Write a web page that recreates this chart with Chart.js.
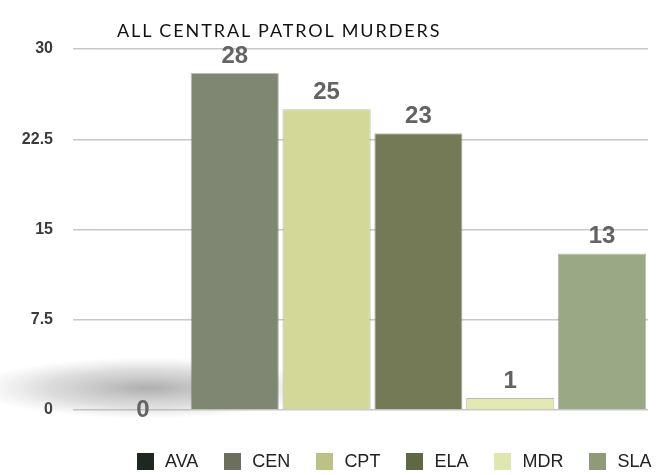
<!DOCTYPE html>
<html>
<head>
<meta charset="utf-8">
<script src="https://cdn.jsdelivr.net/npm/chart.js@4"></script>
<style>
  body { margin: 0; background: #fff; }
  #wrap { position: relative; width: 670px; height: 475px; }
  #title {
    position: absolute; left: 117px; top: 19px;
    font-family: Lato, "Open Sans", sans-serif; font-size: 18px; color: #111;
    letter-spacing: 1.9px;
  }
  #legend {
    position: absolute; left: 137px; top: 450px; display: flex;
    font-family: "Liberation Sans", Arial, sans-serif; font-size: 18px; color: #222;
  }
  #legend .item { display: flex; align-items: center; margin-right: 26px; line-height: 22px; }
  #legend .box { width: 17px; height: 17px; margin-right: 11px; }
</style>
</head>
<body>
<div id="wrap">
  <div id="title">ALL CENTRAL PATROL MURDERS</div>
  <canvas id="bar-chart"></canvas>
  <div id="legend"></div>
</div>
<script>
const categories = ["AVA", "CEN", "CPT", "ELA", "MDR", "SLA"];
const murders = [0, 28, 25, 23, 1, 13];
const yTicks = [0, 7.5, 15, 22.5, 30];
const barColors = ["#1f2820", "#7f8672", "#d3d898", "#747a55", "#e4e9b4", "#9ba886"];
const legendColors = ["#1f2820", "#6c6f60", "#bcc188", "#5f6844", "#dfe6b0", "#8f9a7a"];

// value labels above each bar
const valueLabels = {
  id: "valueLabels",
  afterDatasetsDraw(chart) {
    const ctx = chart.ctx;
    const meta = chart.getDatasetMeta(0);
    ctx.save();
    ctx.font = "bold 24px 'Liberation Sans', Arial, sans-serif";
    ctx.fillStyle = "#636363";
    ctx.textAlign = "center";
    ctx.textBaseline = "bottom";
    meta.data.forEach((bar, i) => {
      const v = murders[i];
      const y = v === 0 ? bar.y + 12 : bar.y - 5;
      ctx.fillText(String(v), bar.x, y);
    });
    ctx.restore();
  }
};

// soft floor shadow behind the bars (decoration only)
const floorShadow = {
  id: "floorShadow",
  beforeDatasetsDraw(chart) {
    const { ctx, chartArea } = chart;
    const y0 = chart.scales.y.getPixelForValue(0);
    ctx.save();
    ctx.translate(chartArea.left + 50, y0 - 22);
    ctx.scale(1, 0.18);
    const g = ctx.createRadialGradient(0, 0, 0, 0, 0, 170);
    g.addColorStop(0, "rgba(120,120,120,0.6)");
    g.addColorStop(0.6, "rgba(150,150,150,0.32)");
    g.addColorStop(1, "rgba(170,170,170,0)");
    ctx.fillStyle = g;
    ctx.beginPath();
    ctx.arc(0, 0, 170, 0, Math.PI * 2);
    ctx.fill();
    ctx.restore();
  }
};

const legendEl = document.getElementById("legend");
categories.forEach((c, i) => {
  const item = document.createElement("div");
  item.className = "item";
  item.innerHTML = '<span class="box" style="background:' + legendColors[i] + '"></span>' + c;
  legendEl.appendChild(item);
});

new Chart(document.getElementById("bar-chart"), {
  type: "bar",
  data: {
    labels: categories,
    datasets: [{
      label: "Murders",
      data: murders,
      backgroundColor: barColors,
      borderColor: "rgba(60,60,50,0.35)",
      borderWidth: 1,
      barPercentage: 0.96,
      categoryPercentage: 1
    }]
  },
  options: {
    responsive: true,
    maintainAspectRatio: false,
    animation: false,
    layout: { padding: { top: 49, right: 22, left: 0, bottom: 65 } },
    plugins: {
      tooltip: { enabled: false },
      legend: { display: false }
    },
    scales: {
      x: { display: false },
      y: {
        min: 0,
        max: 30,
        afterFit(scale) { scale.width = 97; },
        afterBuildTicks(scale) { scale.ticks = yTicks.map(v => ({ value: v })); },
        border: { display: false },
        grid: {
          color: "#c8c8c8",
          lineWidth: 1.5,
          tickLength: 24,
          drawTicks: true
        },
        ticks: {
          padding: 20,
          color: "#3a3a3a",
          font: { family: "'Liberation Sans', Arial, sans-serif", size: 16, weight: "bold" },
          callback: v => String(v)
        }
      }
    }
  },
  plugins: [floorShadow, valueLabels]
});
</script>
</body>
</html>
